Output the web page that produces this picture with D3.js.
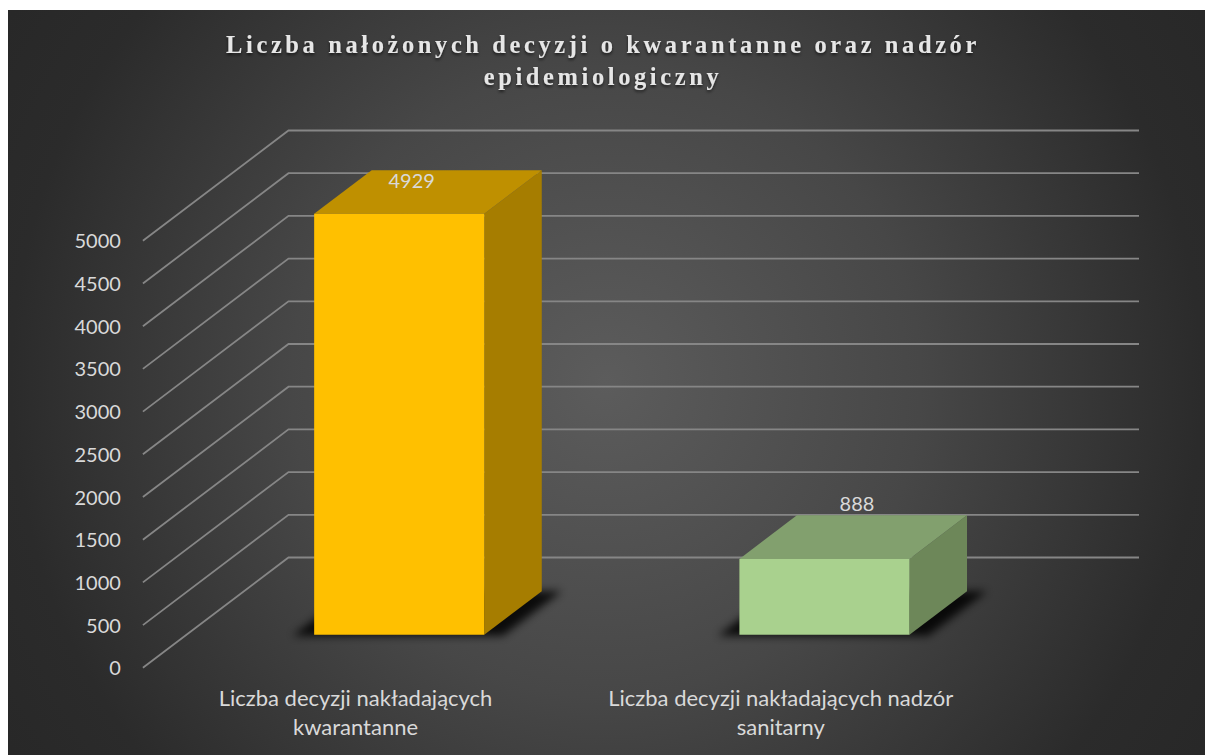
<!DOCTYPE html>
<html lang="pl">
<head>
<meta charset="UTF-8">
<title>Liczba decyzji</title>
<style>
html,body{margin:0;padding:0;background:#fff}
svg{display:block}
text{font-family:Lato,"Open Sans",sans-serif}
</style>
</head>
<body>
<svg id="chart" width="1205" height="755"></svg>
<script src="https://cdn.jsdelivr.net/npm/d3@7"></script>
<script>
var titleLines=["Liczba nałożonych decyzji o kwarantanne oraz nadzór","epidemiologiczny"]
var categories=["a","b"]
var categoryLines=[["Liczba decyzji nakładających","kwarantanne"],["Liczba decyzji nakładających nadzór","sanitarny"]]
var values=[4929,888]
var tickValues=[0,500,1000,1500,2000,2500,3000,3500,4000,4500,5000]
var topColors=["#bf9000","#82a06e"]
var frontColors=["#ffc000","#a9d18e"]
var sideColors=["#a67d00","#6d8759"]

var width=1205,height=755
var svg=d3.select('#chart')

// 3d box: the back wall is flat, depth 0 is the wall and depth 1 the front edge of the floor
var wall={left:288.5,right:1139,bottom:557.5,top:130.5}
var slantX=145.6,slantY=110.3
var barFront=0.7,barBack=0.305

var x=d3.scaleBand().domain(categories).range([wall.left,wall.right]).paddingInner(0.6).paddingOuter(0.3)
var y=d3.scaleLinear().domain([0,5000]).range([wall.bottom,wall.top])

function px(xv,depth){return xv-slantX*depth}
function py(v,depth){return y(v)+slantY*depth}
function pt(xv,v,depth){return [px(xv,depth),py(v,depth)]}
var poly=d3.line()
function closed(points){return poly(points)+'Z'}

// background
var defs=svg.append('defs')
var bg=defs.append('radialGradient').attr('id','bg').attr('gradientUnits','userSpaceOnUse')
    .attr('cx',606).attr('cy',382).attr('r',700)
bg.append('stop').attr('offset','0%').attr('stop-color','#5c5c5c')
bg.append('stop').attr('offset','45%').attr('stop-color','#474747')
bg.append('stop').attr('offset','85%').attr('stop-color','#2b2b2b')
bg.append('stop').attr('offset','100%').attr('stop-color','#282828')

defs.append('filter').attr('id','blur').attr('x','-20%').attr('y','-20%').attr('width','140%').attr('height','140%')
    .append('feGaussianBlur').attr('stdDeviation',4.5)
var ts=defs.append('filter').attr('id','titleShadow').attr('x','-5%').attr('y','-30%').attr('width','110%').attr('height','170%')
ts.append('feDropShadow').attr('dx',0).attr('dy',2).attr('stdDeviation',1.5).attr('flood-color','#000').attr('flood-opacity',0.6)

svg.append('rect').attr('x',8).attr('y',10).attr('width',width-8).attr('height',height-10).attr('fill','url(#bg)')

// title
svg.append('g').attr('filter','url(#titleShadow)').selectAll('text').data(titleLines).join('text')
    .attr('x',603).attr('y',(d,i)=>53+i*32)
    .attr('text-anchor','middle')
    .style('font-family','"Liberation Serif",serif')
    .style('font-weight','bold').style('font-size','24.5px').style('letter-spacing','3.6px')
    .attr('fill','#e6e6e6').text(d=>d)

// gridlines: floor/side diagonal + back wall
var grid=svg.append('g').attr('fill','none').attr('stroke','#868686').attr('stroke-width',1.8)
grid.selectAll('path').data(tickValues).join('path')
    .attr('d',d=>poly([pt(wall.left,d,1),pt(wall.left,d,0),pt(wall.right,d,0)]))

// y axis sits on the front edge of the side wall
var yFront=d3.scaleLinear().domain([0,5000]).range([py(0,1),py(5000,1)])
var yAxis=svg.append('g').attr('transform',`translate(${px(wall.left,1)-1},0)`)
    .call(d3.axisLeft(yFront).tickValues(tickValues).tickSize(0).tickPadding(21).tickFormat(d3.format('d')))
yAxis.select('.domain').remove()
yAxis.selectAll('text').style('font-size','20px').attr('fill','#d9d9d9').attr('dy','0.35em')

// x axis on the front edge of the floor
var xFront=d3.scaleBand().domain(categories).range([wall.left-slantX,wall.right-slantX]).paddingInner(0.6).paddingOuter(0.3)
var xAxis=svg.append('g').attr('transform',`translate(0,${py(0,1)})`)
    .call(d3.axisBottom(xFront).tickSize(0).tickFormat(''))
xAxis.select('.domain').remove()
xAxis.selectAll('.tick text').each(function(d,i){
    var t=d3.select(this).attr('y',0).attr('dy',null).style('font-size','22px').attr('fill','#d9d9d9')
    t.selectAll('tspan').data(categoryLines[i]).join('tspan')
        .attr('x',0).attr('y',(l,j)=>38+j*29).text(l=>l)
})

// bars
var bars=svg.append('g').selectAll('g').data(categories).join('g')
bars.append('path').attr('fill','#000').attr('opacity',0.85).attr('filter','url(#blur)')
    .attr('d',d=>{
        var a=x(d)-20,b=x(d)+x.bandwidth()+20
        return closed([pt(a,0,barFront+0.01),pt(b,0,barFront+0.01),pt(b,0,barBack),pt(a,0,barBack)])
    })
bars.append('path').attr('fill',(d,i)=>sideColors[i])
    .attr('d',(d,i)=>{
        var r=x(d)+x.bandwidth()
        return closed([pt(r,0,barFront),pt(r,0,barBack),pt(r,values[i],barBack),pt(r,values[i],barFront)])
    })
bars.append('path').attr('fill',(d,i)=>topColors[i])
    .attr('d',(d,i)=>{
        var l=x(d),r=l+x.bandwidth()
        return closed([pt(l,values[i],barFront),pt(r,values[i],barFront),pt(r,values[i],barBack),pt(l,values[i],barBack)])
    })
bars.append('path').attr('fill',(d,i)=>frontColors[i])
    .attr('d',(d,i)=>{
        var l=x(d),r=l+x.bandwidth()
        return closed([pt(l,0,barFront),pt(r,0,barFront),pt(r,values[i],barFront),pt(l,values[i],barFront)])
    })

// value labels: tall bar's label falls inside the top face, the short one above it
bars.append('text')
    .attr('x',d=>px(x(d)+x.bandwidth()/2,barBack)+(d==='a'?-45:-25))
    .attr('y',(d,i)=>py(values[i],barBack)-4+(d==='a'?22:0))
    .attr('text-anchor','middle')
    .style('font-size','20px').attr('fill','#d9d9d9')
    .text((d,i)=>values[i])
</script>
</body>
</html>
